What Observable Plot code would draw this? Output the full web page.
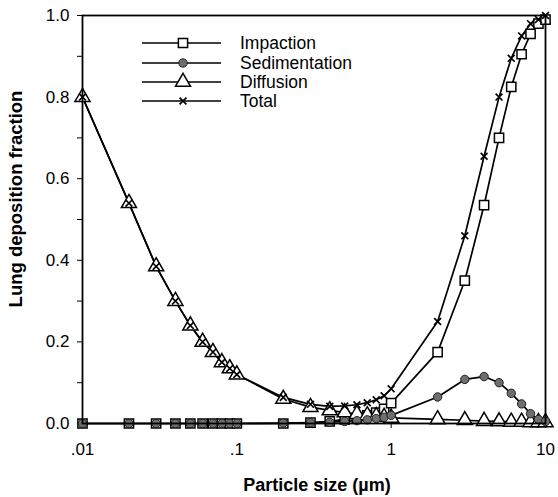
<!DOCTYPE html>
<html>
<head>
<meta charset="utf-8">
<script src="https://cdn.jsdelivr.net/npm/d3@7"></script>
<script src="https://cdn.jsdelivr.net/npm/@observablehq/plot@0.6"></script>
<style>
  html, body { margin: 0; padding: 0; background: white; }
  #wrap { position: relative; width: 558px; height: 497px; font-family: "Liberation Sans", Arial, sans-serif; }
  #overlay { position: absolute; left: 0; top: 0; pointer-events: none; }
</style>
</head>
<body>
<div id="wrap"></div>
<script>
const sizes = [0.01,0.02,0.03,0.04,0.05,0.06,0.07,0.08,0.09,0.1,0.2,0.3,0.4,0.5,0.6,0.7,0.8,0.9,1,2,3,4,5,6,7,8,9,10];
const impaction =     [0,0,0,0,0,0,0,0,0,0,0,0.002,0.005,0.01,0.014,0.02,0.027,0.036,0.05,0.175,0.35,0.535,0.70,0.825,0.905,0.955,0.98,0.99];
const sedimentation = [0,0,0,0,0,0,0,0,0,0,0.001,0.002,0.003,0.005,0.007,0.009,0.012,0.015,0.02,0.065,0.108,0.115,0.10,0.074,0.048,0.024,0.01,0.005];
const diffusion =     [0.80,0.54,0.385,0.30,0.24,0.20,0.175,0.15,0.135,0.12,0.06,0.04,0.032,0.027,0.023,0.02,0.018,0.016,0.014,0.01,0.008,0.006,0.005,0.004,0.004,0.003,0.003,0.003];
const total =         [0.80,0.54,0.385,0.30,0.24,0.20,0.175,0.15,0.135,0.12,0.064,0.047,0.042,0.043,0.046,0.051,0.058,0.068,0.085,0.25,0.46,0.655,0.80,0.895,0.95,0.98,0.99,1.0];
const seriesNames = ["Impaction","Sedimentation","Diffusion","Total"];
const xTicks = [0.01,0.1,1,10];
const xTickLabels = [".01",".1","1","10"];
const yTicks = [0,0.1,0.2,0.3,0.4,0.5,0.6,0.7,0.8,0.9,1.0];
const yTickLabels = ["0.0","","0.2","","0.4","","0.6","","0.8","","1.0"];
const xTitle = "Particle size (\u00b5m)";
const yTitle = "Lung deposition fraction";

const seriesValues = [impaction, sedimentation, diffusion, total];
const rows = seriesNames.flatMap((name, k) => sizes.map((s, i) => ({series: name, size: s, value: seriesValues[k][i]})));
const of = name => rows.filter(d => d.series === name);

const styles = {
  "Impaction":     {symbol: "square",   r: 5.2, fill: "white", stroke: "black", strokeWidth: 1.5},
  "Sedimentation": {symbol: "circle",   r: 4.2, fill: "#6e6e6e", stroke: "#222", strokeWidth: 1},
  "Diffusion":     {symbol: "triangle", r: 5.6, fill: "white", stroke: "black", strokeWidth: 1.5},
  "Total":         {symbol: "times",    r: 3.2, fill: "none", stroke: "black", strokeWidth: 1.7}
};

const lineMarks = seriesNames.map(n => Plot.line(of(n), {x: "size", y: "value", stroke: "black", strokeWidth: 1.7}));
const dotMarks = ["Impaction","Diffusion","Sedimentation","Total"].map(n => Plot.dot(of(n), {x: "size", y: "value", ...styles[n]}));

const chart = Plot.plot({
  width: 558,
  height: 497,
  marginLeft: 82,
  marginRight: 13,
  marginTop: 15,
  marginBottom: 74,
  style: {fontFamily: "'Liberation Sans', Arial, sans-serif", fontSize: "17px", color: "black", background: "white"},
  x: {type: "log", domain: [0.01, 10], ticks: xTicks, tickFormat: d => xTickLabels[xTicks.indexOf(d)] ?? "", tickSize: 5, tickPadding: 14, label: null},
  y: {domain: [0, 1], ticks: yTicks, tickFormat: d => yTickLabels[yTicks.findIndex(t => Math.abs(t - d) < 1e-9)] ?? "", tickSize: 5, tickPadding: 8, label: null},
  marks: [
    ...lineMarks,
    ...dotMarks,
    Plot.frame({stroke: "black", strokeWidth: 1.8})
  ]
});

const wrap = document.getElementById("wrap");
wrap.appendChild(chart);

// overlay: legend and axis titles
const svg = d3.select(wrap).append("svg").attr("id", "overlay").attr("width", 558).attr("height", 497)
  .style("font-family", "'Liberation Sans', Arial, sans-serif");

const legendRows = [43, 63, 82, 101];
const shape = {square: d3.symbolSquare, circle: d3.symbolCircle, triangle: d3.symbolTriangle, times: d3.symbolTimes};
seriesNames.forEach((n, i) => {
  const y = legendRows[i];
  const st = styles[n];
  svg.append("line").attr("x1", 142).attr("x2", 221).attr("y1", y).attr("y2", y).attr("stroke", "black").attr("stroke-width", 1.7);
  svg.append("path").attr("transform", `translate(183,${y})`)
    .attr("d", d3.symbol(shape[st.symbol], st.r * st.r * Math.PI)())
    .attr("fill", st.fill).attr("stroke", st.stroke).attr("stroke-width", st.strokeWidth);
  svg.append("text").attr("x", 240).attr("y", y).attr("dy", "0.35em").attr("font-size", 17.5).text(n);
});

svg.append("text").attr("x", 317).attr("y", 491).attr("text-anchor", "middle")
  .attr("font-size", 18).attr("font-weight", "bold").text(xTitle);
svg.append("text").attr("transform", "translate(22,199) rotate(-90)").attr("text-anchor", "middle")
  .attr("font-size", 18.5).attr("font-weight", "bold").text(yTitle);
</script>
</body>
</html>
